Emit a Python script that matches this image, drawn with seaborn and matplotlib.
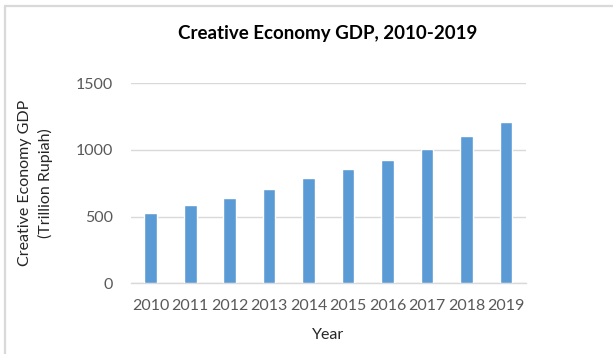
import matplotlib
matplotlib.use("Agg")
import matplotlib.pyplot as plt
import seaborn as sns
import pandas as pd
from matplotlib.lines import Line2D

years = ["2010", "2011", "2012", "2013", "2014", "2015", "2016", "2017", "2018", "2019"]
gdp = [525, 585, 640, 707, 787, 855, 925, 1007, 1105, 1210]
yticks = [0, 500, 1000, 1500]

sns.set_theme(style="white")
plt.rcParams["font.family"] = ["Lato", "DejaVu Sans"]

df = pd.DataFrame({"Year": years, "GDP": gdp})

fig = plt.figure(figsize=(6.13, 3.54), dpi=100)
ax = fig.add_axes([131 / 613, 1 - 283.3 / 354, 394.7 / 613, 200 / 354])

sns.barplot(data=df, x="Year", y="GDP", color="#5B9BD5", width=0.32,
            saturation=1, ax=ax, zorder=3)

ax.set_ylim(0, 1500)
ax.set_yticks(yticks)
ax.set_yticklabels([str(v) for v in yticks])
ax.grid(axis="y", color="#D9D9D9", linewidth=1, zorder=0)
for s in ["top", "right", "left"]:
    ax.spines[s].set_visible(False)
ax.spines["bottom"].set_color("#D9D9D9")
ax.spines["bottom"].set_linewidth(1)
ax.tick_params(axis="both", length=0, labelsize=11.5, colors="#595959")
ax.tick_params(axis="x", pad=11)
ax.tick_params(axis="y", pad=13)

ax.set_xlabel("Year", fontsize=11.5, color="#262626", labelpad=11)
ax.set_ylabel("Creative Economy GDP\n(Trillion Rupiah)", fontsize=11.5,
              color="#262626", labelpad=16, linespacing=1.55)

fig.text(327.5 / 613, 1 - 33.5 / 354, "Creative Economy GDP, 2010-2019",
         ha="center", va="center", fontsize=13.5, fontweight="bold", color="#000000")

# chart-area border (top and left edges)
fig.add_artist(Line2D([4.5 / 613, 1.0], [1 - 5.5 / 354, 1 - 5.5 / 354],
                      transform=fig.transFigure, color="#D9D9D9", linewidth=1.6))
fig.add_artist(Line2D([4.5 / 613, 4.5 / 613], [0, 1 - 5.5 / 354],
                      transform=fig.transFigure, color="#D9D9D9", linewidth=1.6))

fig.savefig("out.png", dpi=100)
